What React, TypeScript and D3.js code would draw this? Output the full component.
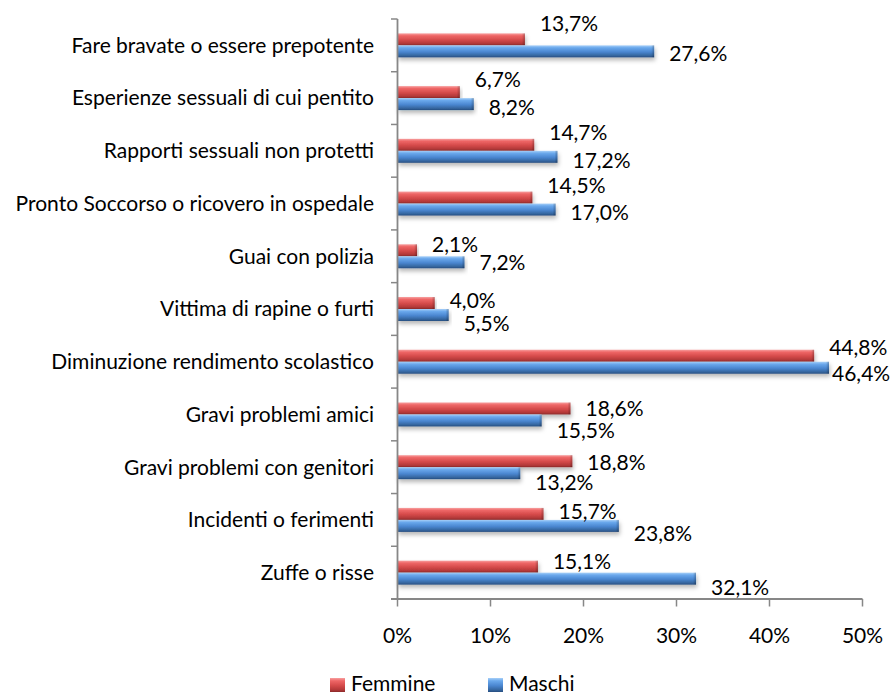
import React from "react";
import * as d3 from "d3";

const categories = [
  "Fare bravate o essere prepotente",
  "Esperienze sessuali di cui pentito",
  "Rapporti sessuali non protetti",
  "Pronto Soccorso o ricovero in ospedale",
  "Guai con polizia",
  "Vittima di rapine o furti",
  "Diminuzione rendimento scolastico",
  "Gravi problemi amici",
  "Gravi problemi con genitori",
  "Incidenti o ferimenti",
  "Zuffe o risse",
];
const femmine = [13.7, 6.7, 14.7, 14.5, 2.1, 4.0, 44.8, 18.6, 18.8, 15.7, 15.1];
const maschi = [27.6, 8.2, 17.2, 17.0, 7.2, 5.5, 46.4, 15.5, 13.2, 23.8, 32.1];
const xTicks = [0, 10, 20, 30, 40, 50];
const seriesNames = ["Femmine", "Maschi"];
// vertical nudges of the value labels (px), as placed in the original
const labelDyF = [-16, -12, -12, -12, -6, -2, -8, 0, 1, -2, -5];
const labelDyM = [2, 3.5, 4, 3.5, 0, 9, 6, 10, 9, 8, 9];

const W = 892;
const H = 695;
const FONT = "Lato, 'Open Sans', sans-serif";
const FS = 21;
const axisColor = "#878787";

const fmt = (v: number) => v.toFixed(1).replace(".", ",") + "%";

export default function App() {
  const x = d3.scaleLinear().domain([0, 50]).range([397.5, 862.5]);
  const y = d3
    .scaleBand<string>()
    .domain(categories)
    .range([19, 599])
    .paddingInner(0.545)
    .paddingOuter(0.2725);
  const inner = d3
    .scaleBand<string>()
    .domain(seriesNames)
    .range([0, y.bandwidth()]);
  const step = y.step();
  const half = (step * 0.545) / 2;
  const x0 = x(0);
  const tickYs = categories.map((c) => (y(c) as number) - half);
  tickYs.push(y.range()[1]);

  const series = [
    { name: "Femmine", values: femmine, dy: labelDyF, grad: "gradF" },
    { name: "Maschi", values: maschi, dy: labelDyM, grad: "gradM" },
  ];
  const labelW = 58;

  return (
    <svg
      width={W}
      height={H}
      style={{ position: "absolute", left: 0, top: 0, background: "#fff" }}
      fontFamily={FONT}
    >
      <defs>
        <linearGradient id="gradF" x1="0" y1="0" x2="0" y2="1">
          <stop offset="0" stopColor="#f7a0a0" />
          <stop offset="0.2" stopColor="#ee6666" />
          <stop offset="0.55" stopColor="#d44a4a" />
          <stop offset="0.85" stopColor="#b23838" />
          <stop offset="1" stopColor="#8a2a2a" />
        </linearGradient>
        <linearGradient id="gradM" x1="0" y1="0" x2="0" y2="1">
          <stop offset="0" stopColor="#a8d0f8" />
          <stop offset="0.2" stopColor="#6aa8ec" />
          <stop offset="0.55" stopColor="#4a86d0" />
          <stop offset="0.85" stopColor="#35669f" />
          <stop offset="1" stopColor="#274d80" />
        </linearGradient>
        <linearGradient id="endShade" x1="0" y1="0" x2="1" y2="0">
          <stop offset="0" stopColor="#000" stopOpacity="0" />
          <stop offset="1" stopColor="#000" stopOpacity="0.25" />
        </linearGradient>
        <filter id="shadow" x="-5%" y="-50%" width="110%" height="250%">
          <feDropShadow dx="1" dy="3" stdDeviation="2" floodColor="#000" floodOpacity="0.28" />
        </filter>
      </defs>

      {/* bars */}
      {series.map((s) =>
        categories.map((c, i) => {
          const by = (y(c) as number) + (inner(s.name) as number);
          const bw = x(s.values[i]) - x0;
          return (
            <g key={s.name + i}>
              <rect
                x={x0}
                y={by}
                width={bw}
                height={inner.bandwidth()}
                fill={`url(#${s.grad})`}
                filter="url(#shadow)"
              />
              <rect
                x={x0 + bw - 3}
                y={by}
                width={3}
                height={inner.bandwidth()}
                fill="url(#endShade)"
              />
            </g>
          );
        })
      )}

      {/* value labels */}
      {series.map((s) =>
        categories.map((c, i) => {
          const cy =
            (y(c) as number) + (inner(s.name) as number) + inner.bandwidth() / 2 + s.dy[i];
          const lx = Math.min(x(s.values[i]) + 15, W - 2 - labelW);
          return (
            <text
              key={"l" + s.name + i}
              x={lx}
              y={cy}
              dy="0.35em"
              fontSize={FS}
              fill="#000"
            >
              {fmt(s.values[i])}
            </text>
          );
        })
      )}

      {/* y axis */}
      <line x1={x0} x2={x0} y1={19} y2={599} stroke={axisColor} strokeWidth={1.8} />
      {tickYs.map((ty, i) => (
        <line key={"yt" + i} x1={x0 - 6.5} x2={x0} y1={ty} y2={ty} stroke={axisColor} strokeWidth={1.5} />
      ))}
      {categories.map((c) => (
        <text
          key={"c" + c}
          x={374}
          y={(y(c) as number) + y.bandwidth() / 2}
          dy="0.35em"
          textAnchor="end"
          fontSize={FS}
          fill="#000"
        >
          {c}
        </text>
      ))}

      {/* x axis */}
      <line x1={x0 - 6.5} x2={x(50)} y1={599} y2={599} stroke={axisColor} strokeWidth={1.8} />
      {xTicks.map((t) => (
        <g key={"xt" + t}>
          <line x1={x(t)} x2={x(t)} y1={599} y2={606.5} stroke={axisColor} strokeWidth={1.5} />
          <text x={x(t)} y={636} dy="0.35em" textAnchor="middle" fontSize={FS} fill="#000">
            {t + "%"}
          </text>
        </g>
      ))}

      {/* legend */}
      {seriesNames.map((n, i) => {
        const lx = [330, 488][i];
        return (
          <g key={"lg" + n}>
            <rect x={lx} y={678} width={15} height={14} fill={`url(#${i === 0 ? "gradF" : "gradM"})`} />
            <text x={lx + 21} y={684} dy="0.35em" fontSize={FS} fill="#000">
              {n}
            </text>
          </g>
        );
      })}
    </svg>
  );
}
